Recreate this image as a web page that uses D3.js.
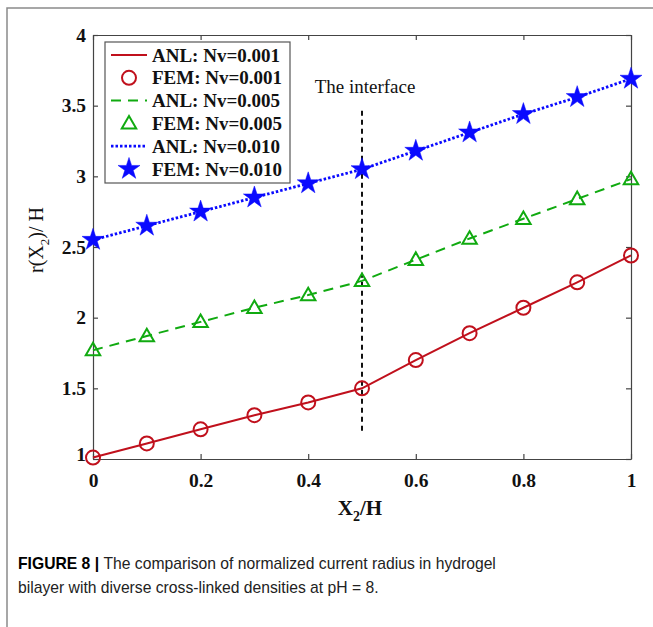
<!DOCTYPE html>
<html>
<head>
<meta charset="utf-8">
<script src="https://cdn.jsdelivr.net/npm/d3@7"></script>
<style>
  body { margin: 0; background: #fff; }
  svg { display: block; }
</style>
</head>
<body>
<div id="chart"></div>
<script>
// data
const xValues = [0, 0.1, 0.2, 0.3, 0.4, 0.5, 0.6, 0.7, 0.8, 0.9, 1.0];
const nv001 = [1.01, 1.11, 1.21, 1.31, 1.40, 1.50, 1.70, 1.89, 2.07, 2.25, 2.44];
const nv005 = [1.77, 1.87, 1.97, 2.07, 2.16, 2.26, 2.41, 2.56, 2.70, 2.84, 2.98];
const nv010 = [2.55, 2.65, 2.75, 2.85, 2.95, 3.05, 3.18, 3.31, 3.44, 3.56, 3.69];
const xTicks = [0, 0.2, 0.4, 0.6, 0.8, 1];
const yTicks = [1, 1.5, 2, 2.5, 3, 3.5, 4];
const legendLabels = ["ANL: Nv=0.001", "FEM: Nv=0.001", "ANL: Nv=0.005", "FEM: Nv=0.005", "ANL: Nv=0.010", "FEM: Nv=0.010"];
const interfaceX = 0.5;
const interfaceRange = [1.2, 3.48];

const W = 653, H = 627;
const margin = {left: 93, right: 22, top: 35, bottom: 168};
const serif = "'Liberation Serif', 'Times New Roman', serif";

const svg = d3.select("#chart").append("svg")
    .attr("width", W)
    .attr("height", H);

// figure card border (top + left only visible)
svg.append("path")
    .attr("d", `M7,${H} L7,8 L${W},8`)
    .attr("fill", "none")
    .attr("stroke", "#8a8a8a")
    .attr("stroke-width", 1.5);

const x = d3.scaleLinear().domain([0, 1]).range([margin.left, W - margin.right]);
const y = d3.scaleLinear().domain([1, 4]).range([H - margin.bottom, margin.top]);

const axisColor = "#444";

// axes (ticks inside, on all four sides)
const gx = svg.append("g")
    .attr("transform", `translate(0,${y(1)})`)
    .call(d3.axisBottom(x).tickValues(xTicks).tickSizeInner(-5).tickSizeOuter(0).tickPadding(14).tickFormat(d3.format("~g")));
const gxTop = svg.append("g")
    .attr("transform", `translate(0,${y(4)})`)
    .call(d3.axisTop(x).tickValues(xTicks).tickSizeInner(-5).tickSizeOuter(0).tickFormat(""));
const gy = svg.append("g")
    .attr("transform", `translate(${x(0)},0)`)
    .call(d3.axisLeft(y).tickValues(yTicks).tickSizeInner(-5).tickSizeOuter(0).tickPadding(7).tickFormat(d3.format("~g")));
const gyRight = svg.append("g")
    .attr("transform", `translate(${x(1)},0)`)
    .call(d3.axisRight(y).tickValues(yTicks).tickSizeInner(-5).tickSizeOuter(0).tickFormat(""));

[gx, gxTop, gy, gyRight].forEach(g => {
    g.select(".domain").attr("stroke", axisColor).attr("stroke-width", 1.2);
    g.selectAll(".tick line").attr("stroke", axisColor).attr("stroke-width", 1.2);
    g.selectAll(".tick text")
        .attr("fill", "#111")
        .attr("font-family", serif)
        .attr("font-weight", "bold")
        .attr("font-size", 19.5);
});
gy.selectAll(".tick text").filter(d => d === 1).attr("dy", "0.1em");

// axis titles
const xTitle = svg.append("text")
    .attr("x", x(0.5) - 2)
    .attr("y", y(1) + 56)
    .attr("text-anchor", "middle")
    .attr("font-family", serif)
    .attr("font-weight", "bold")
    .attr("font-size", 21)
    .attr("fill", "#111");
xTitle.append("tspan").text("X");
xTitle.append("tspan").attr("font-size", 14).attr("dy", 6).text("2");
xTitle.append("tspan").attr("dy", -6).text("/H");

const yTitle = svg.append("text")
    .attr("transform", `translate(43,${y(2.55)}) rotate(-90)`)
    .attr("text-anchor", "middle")
    .attr("font-family", serif)
    .attr("font-size", 20)
    .attr("fill", "#111");
yTitle.append("tspan").text("r(X");
yTitle.append("tspan").attr("font-size", 13).attr("dy", 6).text("2");
yTitle.append("tspan").attr("dy", -6).text(")/ H");

// interface line
svg.append("line")
    .attr("x1", x(interfaceX)).attr("x2", x(interfaceX))
    .attr("y1", y(interfaceRange[0])).attr("y2", y(interfaceRange[1]))
    .attr("stroke", "#111")
    .attr("stroke-width", 2)
    .attr("stroke-dasharray", "5,4");
svg.append("text")
    .attr("x", x(interfaceX) + 3)
    .attr("y", y(interfaceRange[1]) - 15)
    .attr("text-anchor", "middle")
    .attr("font-family", serif)
    .attr("font-size", 19)
    .attr("fill", "#111")
    .text("The interface");

const series = [
    {values: nv001, color: "#c0101c", dash: null, width: 2, marker: "circle"},
    {values: nv005, color: "#10aa10", dash: "10,7", width: 2, marker: "triangle"},
    {values: nv010, color: "#0a0aff", dash: "2.5,2", width: 2.8, marker: "star"}
];

const line = d3.line().x(d => x(d[0])).y(d => y(d[1]));

function drawMarker(g, type, color) {
    if (type === "circle") {
        g.append("circle").attr("r", 7)
            .attr("fill", "none").attr("stroke", color).attr("stroke-width", 2);
    } else if (type === "triangle") {
        g.append("path").attr("d", d3.symbol(d3.symbolTriangle2, 150)())
            .attr("transform", "translate(0,1)")
            .attr("fill", "none").attr("stroke", color).attr("stroke-width", 2);
    } else {
        g.append("path").attr("d", d3.symbol(d3.symbolStar, 150)())
            .attr("fill", color).attr("stroke", color).attr("stroke-width", 0.5);
    }
}

series.forEach(s => {
    const pts = xValues.map((xv, i) => [xv, s.values[i]]);
    svg.append("path")
        .datum(pts)
        .attr("d", line)
        .attr("fill", "none")
        .attr("stroke", s.color)
        .attr("stroke-width", s.width)
        .attr("stroke-dasharray", s.dash);
    svg.append("g").selectAll("g")
        .data(pts)
        .join("g")
        .attr("transform", d => `translate(${x(d[0])},${y(d[1])})`)
        .each(function() { drawMarker(d3.select(this), s.marker, s.color); });
});

// legend
const lg = svg.append("g").attr("transform", "translate(105,42)");
lg.append("rect")
    .attr("width", 185).attr("height", 141)
    .attr("fill", "#fff")
    .attr("stroke", "#555")
    .attr("stroke-width", 1.2);
legendLabels.forEach((lab, i) => {
    const s = series[Math.floor(i / 2)];
    const cy = 13 + i * 22.8;
    if (i % 2 === 0) {
        lg.append("line")
            .attr("x1", 6).attr("x2", 42)
            .attr("y1", cy).attr("y2", cy)
            .attr("stroke", s.color)
            .attr("stroke-width", s.width)
            .attr("stroke-dasharray", s.dash);
    } else {
        const mg = lg.append("g").attr("transform", `translate(24,${cy})`);
        drawMarker(mg, s.marker, s.color);
    }
    lg.append("text")
        .attr("x", 47)
        .attr("y", cy + 6.5)
        .attr("font-family", serif)
        .attr("font-weight", "bold")
        .attr("font-size", 19)
        .attr("fill", "#111")
        .text(lab);
});

// caption
const sans = "'Liberation Sans Narrow', 'Liberation Sans', Arial, sans-serif";
const cap1 = svg.append("text")
    .attr("x", 18).attr("y", 569)
    .attr("font-family", sans)
    .attr("font-size", 15.7)
    .attr("fill", "#222");
cap1.append("tspan").attr("font-weight", "bold").attr("fill", "#000").text("FIGURE 8 | ");
cap1.append("tspan").text("The comparison of normalized current radius in hydrogel");
svg.append("text")
    .attr("x", 18).attr("y", 593)
    .attr("font-family", sans)
    .attr("font-size", 15.7)
    .attr("fill", "#222")
    .text("bilayer with diverse cross-linked densities at pH = 8.");
</script>
</body>
</html>
